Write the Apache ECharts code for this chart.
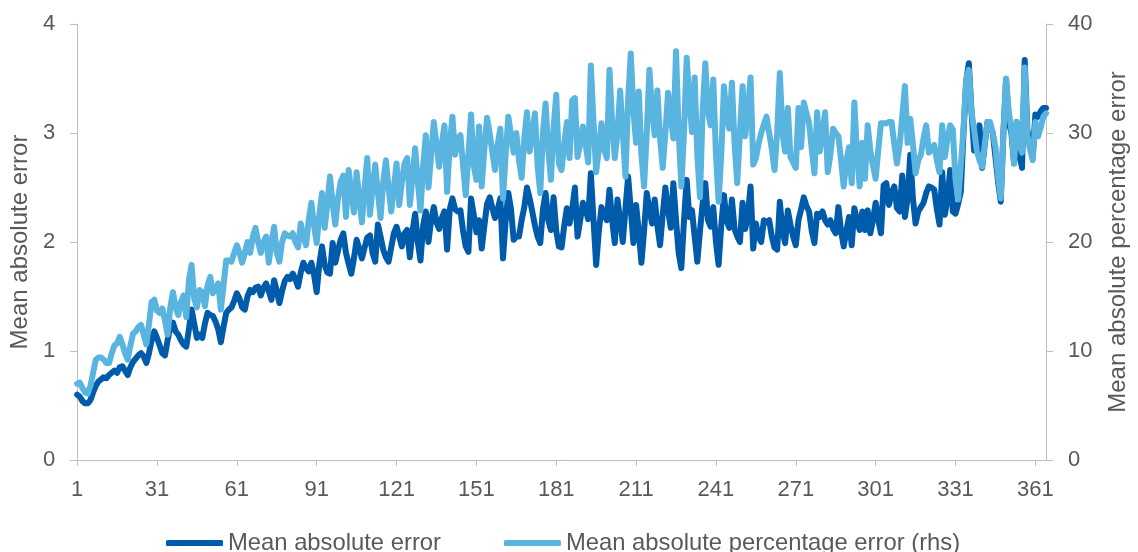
<!DOCTYPE html>
<html>
<head>
<meta charset="utf-8">
<script src="https://cdn.jsdelivr.net/npm/echarts@6/dist/echarts.min.js"></script>
<style>
html,body{margin:0;padding:0;background:#fff;}
#chart{width:1138px;height:552px;}
</style>
</head>
<body>
<div id="chart"></div>
<script>
// Day index 1..365
const dayCount = 365;
const days = [];
for (let i = 1; i <= dayCount; i++) days.push(String(i));

const seriesNames = ["Mean absolute error", "Mean absolute percentage error (rhs)"];
const leftAxisName = "Mean absolute error";
const rightAxisName = "Mean absolute percentage error";

// Mean absolute error (left axis)
const mae = [
0.60,0.58,0.54,0.52,0.52,0.55,0.62,0.68,0.72,0.74,
0.76,0.75,0.78,0.80,0.82,0.80,0.85,0.86,0.82,0.78,
0.85,0.90,0.93,0.96,0.98,0.95,0.89,0.98,1.10,1.18,
1.12,1.05,0.98,0.96,1.10,1.22,1.26,1.18,1.15,1.10,
1.06,1.04,1.20,1.38,1.25,1.12,1.15,1.12,1.25,1.35,
1.33,1.32,1.27,1.20,1.08,1.22,1.35,1.38,1.40,1.46,
1.53,1.48,1.40,1.38,1.50,1.56,1.54,1.58,1.59,1.51,
1.58,1.62,1.55,1.47,1.65,1.55,1.44,1.55,1.64,1.68,
1.66,1.71,1.66,1.59,1.72,1.81,1.76,1.73,1.81,1.70,
1.54,1.80,1.96,1.79,1.72,1.71,1.99,1.81,1.92,2.02,
2.08,1.90,1.80,1.71,1.85,2.02,1.94,1.85,1.95,2.04,
2.06,1.90,1.82,2.16,2.05,1.93,1.86,1.82,1.95,2.08,
2.14,2.05,1.96,2.08,2.11,1.86,2.10,2.26,2.00,1.83,
2.15,2.28,2.00,2.20,2.32,2.18,2.12,2.22,2.28,1.93,
2.30,2.40,2.30,2.28,2.29,2.10,1.96,1.91,2.40,2.25,
2.09,2.20,1.94,2.15,2.35,2.41,2.31,2.22,2.30,2.40,
1.85,2.20,2.45,2.30,2.02,2.05,2.05,2.20,2.32,2.50,
2.40,2.28,2.15,2.05,1.99,2.30,2.45,2.20,2.11,2.41,
2.10,1.96,1.95,2.15,2.31,2.17,2.30,2.50,2.05,2.20,
2.36,2.30,2.21,2.63,2.20,1.79,2.10,2.32,2.25,2.20,
2.48,2.20,1.99,2.39,2.20,2.00,2.30,2.60,2.30,1.99,
2.34,2.10,1.81,2.10,2.45,2.30,2.17,2.39,2.15,1.97,
2.25,2.50,2.30,2.13,2.54,2.20,1.90,1.76,2.20,2.57,
2.23,2.29,2.05,1.82,2.10,2.35,2.54,2.20,2.14,2.32,
2.00,1.79,2.15,2.43,2.20,2.13,2.39,2.12,2.05,2.00,
2.36,2.12,2.25,2.51,1.94,2.17,2.05,2.00,2.20,2.18,
2.20,2.05,1.95,1.93,2.37,2.10,1.99,2.29,2.16,2.05,
1.97,2.20,2.30,2.41,2.33,2.28,2.10,1.99,2.26,2.23,
2.28,2.20,2.16,2.20,2.12,2.08,2.32,2.10,1.96,2.10,
2.23,1.97,2.31,2.20,2.11,2.28,2.11,2.29,2.08,2.20,
2.36,2.20,2.08,2.52,2.54,2.34,2.45,2.51,2.31,2.28,
2.61,2.23,2.40,2.80,2.40,2.17,2.28,2.32,2.36,2.45,
2.51,2.50,2.48,2.30,2.16,2.64,2.25,2.40,2.66,2.28,
2.26,2.35,2.46,3.00,3.47,3.64,3.20,2.84,2.95,3.07,
2.68,2.90,3.10,3.05,3.00,2.78,2.55,2.37,3.00,3.49,
3.10,3.00,2.72,3.10,2.80,2.68,3.67,3.03,2.90,2.78,
3.17,3.15,3.20,3.23,3.23
];

// Mean absolute percentage error, % (right axis)
const mape = [
7.0,7.1,6.6,6.2,6.1,6.8,8.0,9.2,9.4,9.4,
9.2,8.9,8.9,9.8,10.5,10.7,11.3,10.6,9.8,9.2,
10.5,11.6,11.8,12.2,12.4,11.5,10.6,12.5,14.5,14.7,
13.7,13.5,13.9,12.8,11.5,14.0,15.4,14.0,13.3,14.5,
15.1,13.1,16.5,17.9,14.8,14.0,15.6,15.4,14.1,16.0,
16.8,15.3,15.8,16.2,13.8,16.0,18.3,18.3,18.2,19.0,
19.7,19.0,18.1,19.0,20.0,19.0,20.5,21.3,20.0,19.0,
20.0,20.5,18.1,20.0,21.4,19.0,18.2,20.0,20.8,20.6,
20.5,20.8,20.0,19.5,21.7,20.5,19.7,22.0,23.6,21.5,
19.9,22.5,24.5,21.3,23.5,26.0,23.5,21.6,24.0,25.5,
26.1,22.3,26.6,24.5,22.7,26.4,24.0,21.8,25.0,27.7,
22.5,25.0,27.1,24.5,22.2,25.5,27.5,25.0,22.8,25.0,
27.2,23.4,25.5,27.2,27.7,23.4,26.0,28.6,25.5,22.9,
27.0,29.8,25.0,28.0,31.0,29.0,26.9,29.0,30.7,24.6,
29.0,31.5,28.0,29.5,29.8,27.0,24.3,28.0,31.7,27.0,
25.7,30.6,25.1,28.5,31.4,30.0,28.2,26.6,29.0,30.4,
24.0,28.0,31.5,29.8,28.2,30.0,27.5,25.9,29.5,31.9,
28.3,30.0,31.8,27.0,24.5,30.0,32.7,28.5,25.7,30.5,
33.5,27.2,26.6,29.0,31.0,27.7,33.0,33.2,27.8,29.0,
30.6,29.0,27.3,36.2,31.0,26.4,28.5,30.9,28.5,27.7,
35.8,31.0,27.7,30.0,33.9,30.0,26.0,33.0,37.3,32.0,
29.1,33.8,28.0,25.1,30.0,35.8,32.0,29.8,33.9,29.5,
26.8,30.0,33.7,31.5,29.5,37.5,30.0,25.1,30.0,36.9,
33.0,30.1,35.1,28.0,24.1,32.0,36.4,32.0,30.7,34.9,
28.0,23.7,28.0,34.3,31.5,30.4,34.6,29.0,25.4,30.0,
34.3,29.7,32.0,35.1,27.1,27.7,29.0,30.0,30.8,31.5,
30.0,28.5,26.6,30.0,35.5,30.0,28.3,32.3,27.8,27.3,
26.8,32.3,28.7,32.8,31.8,30.9,28.5,26.3,31.9,28.3,
30.0,31.9,26.4,28.0,30.4,30.0,29.7,27.5,25.1,27.5,
28.7,25.4,32.8,28.0,25.1,29.1,25.8,30.7,28.4,27.0,
25.8,28.5,30.9,30.9,30.9,31.0,31.0,29.0,27.2,28.9,
31.5,34.3,29.1,31.3,29.0,26.3,27.5,28.0,29.5,30.7,
28.2,28.5,28.9,27.5,26.4,30.7,27.8,29.5,30.7,30.3,
25.7,23.9,27.0,30.3,34.9,35.8,32.0,30.3,28.4,27.5,
26.9,29.0,31.0,31.0,30.0,28.7,26.0,24.0,30.0,35.0,
32.0,30.3,27.2,31.0,29.0,28.2,36.0,29.8,28.5,27.5,
31.0,29.7,30.5,31.5,31.8
];

const colors = ["#005BAA", "#5AB4E0"];
const textColor = "#595959";
const axisColor = "#BFBFBF";
const font = "Liberation Sans, Arial, sans-serif";

const chart = echarts.init(document.getElementById("chart"), null, {renderer: "canvas"});
chart.setOption({
  animation: false,
  backgroundColor: "#ffffff",
  textStyle: {fontFamily: font},
  grid: {left: 76, right: 90, top: 24, bottom: 92, containLabel: false},
  legend: {
    left: 161, top: 526,
    itemWidth: 57, itemHeight: 6, itemGap: 63,
    icon: "roundRect",
    textStyle: {color: textColor, fontSize: 23.8, fontFamily: font},
    data: seriesNames
  },
  xAxis: {
    type: "category",
    data: days,
    boundaryGap: false,
    axisLine: {show: true, lineStyle: {color: axisColor, width: 1}},
    axisTick: {show: true, interval: 29, length: 6, lineStyle: {color: axisColor}},
    axisLabel: {interval: 29, color: textColor, fontSize: 22, margin: 19, fontFamily: font},
    splitLine: {show: false}
  },
  yAxis: [
    {
      type: "value", min: 0, max: 4, interval: 1,
      name: leftAxisName, nameLocation: "middle", nameRotate: 90, nameGap: 44,
      nameTextStyle: {color: textColor, fontSize: 24, fontFamily: font},
      axisLine: {show: true, lineStyle: {color: axisColor}},
      axisTick: {show: true, length: 7, lineStyle: {color: axisColor}},
      axisLabel: {color: textColor, fontSize: 22, margin: 22, fontFamily: font},
      splitLine: {show: false}
    },
    {
      type: "value", min: 0, max: 40, interval: 10, position: "right",
      name: rightAxisName, nameLocation: "middle", nameRotate: 90, nameGap: 60,
      nameTextStyle: {color: textColor, fontSize: 24, fontFamily: font},
      axisLine: {show: true, lineStyle: {color: axisColor}},
      axisTick: {show: true, length: 7, lineStyle: {color: axisColor}},
      axisLabel: {color: textColor, fontSize: 22, margin: 22, fontFamily: font},
      splitLine: {show: false}
    }
  ],
  series: [
    {
      name: seriesNames[0], type: "line", yAxisIndex: 0, data: mae,
      symbol: "none", color: colors[0],
      lineStyle: {width: 6, color: colors[0], cap: "round", join: "round"}
    },
    {
      name: seriesNames[1], type: "line", yAxisIndex: 1, data: mape,
      symbol: "none", color: colors[1],
      lineStyle: {width: 6, color: colors[1], cap: "round", join: "round"}
    }
  ]
});
</script>
</body>
</html>
